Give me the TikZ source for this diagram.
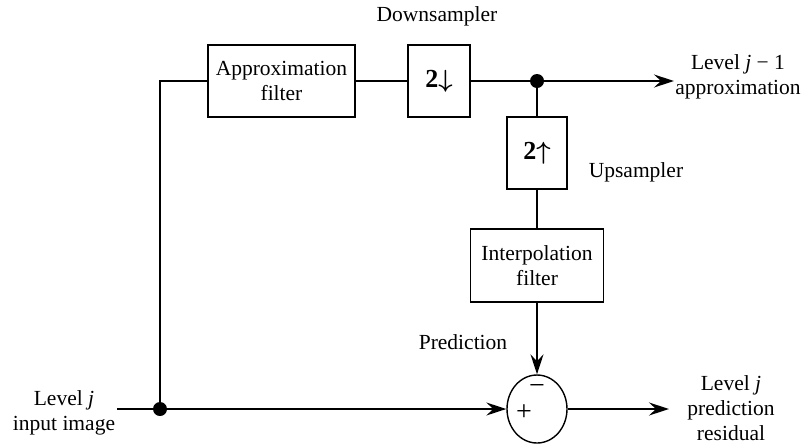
\documentclass[tikz,border=0pt]{standalone}
\usepackage{amsmath}
\usepackage{fontspec}
\setmainfont{Liberation Serif}
\usetikzlibrary{arrows.meta,shapes.geometric}
\begin{document}
\begin{tikzpicture}[x=1pt,y=-1pt,
  txt/.style={font=\fontsize{21.5}{25}\selectfont, align=center, inner sep=0pt},
  blk/.style={txt, draw, line width=1.4pt},
  big/.style={font=\fontsize{26}{28}\selectfont\bfseries},
  wire/.style={line width=1.7pt},
  arr/.style={wire, -{Stealth[length=20pt,width=13pt,inset=7pt]}},
  junction/.style={circle, fill, inner sep=0pt, minimum size=14pt}]
\useasboundingbox (0,0) rectangle (806,445);
% blocks
\node[blk, minimum width=147pt, minimum height=72pt] (approx) at (281.5,81) {Approximation\\filter};
\node[blk, big, minimum width=62pt, minimum height=72pt] (down) at (439,81) {2$\boldsymbol{\downarrow}$};
\node[junction] (dot1) at (537,81) {};
\node[blk, big, minimum width=60pt, minimum height=72pt] (up) at (537,153) {2$\boldsymbol{\uparrow}$};
\node[blk, minimum width=133pt, minimum height=73pt] (interp) at (537,265.5) {Interpolation\\filter};
\node[draw, ellipse, line width=1.4pt, minimum width=60pt, minimum height=68pt, inner sep=0pt] (sum) at (537,409) {};
\node[txt, font=\fontsize{28}{28}\selectfont] (minus) at (537,389) {−};
\node[txt, font=\fontsize{28}{28}\selectfont] (plus) at (524,413) {+};
\node[junction] (dot2) at (160,409) {};
\coordinate (in) at (117,409);
\coordinate (out1) at (674,81);
\coordinate (out2) at (669,409);
% labels
\node[txt] (ldown) at (437,16) {Downsampler};
\node[txt] (lup) at (636,172) {Upsampler};
\node[txt] (lpred) at (463,342) {Prediction};
\node[txt] (lout1) at (738,77) {Level \textit{j} − 1\\approximation};
\node[txt] (lin) at (64,413) {Level \textit{j}\\input image};
\node[txt] (lout2) at (731,408) {Level \textit{j}\\prediction\\residual};
% connectors
\draw[wire] (in) -- (dot2);
\draw[arr] (dot2) -- (sum.west);
\draw[wire] (dot2) |- (approx.west);
\draw[wire] (approx.east) -- (down.west);
\draw[wire] (down.east) -- (dot1);
\draw[arr] (dot1) -- (out1);
\draw[wire] (dot1) -- (up.north);
\draw[wire] (up.south) -- (interp.north);
\draw[arr] (interp.south) -- (sum.north);
\draw[arr] (sum.east) -- (out2);
\end{tikzpicture}
\end{document}
